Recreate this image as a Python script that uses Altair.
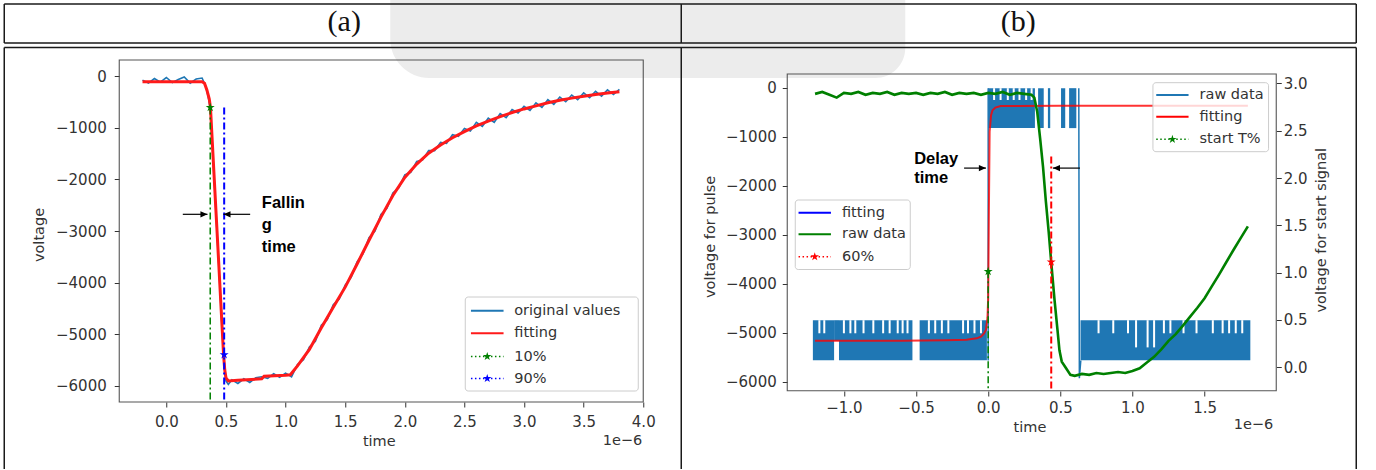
import altair as alt
import pandas as pd

FONT = "DejaVu Sans"
BOLD = "Liberation Sans"
TXT = "#333333"

# ---------------- panel (a): falling edge ----------------
a_raw_time = [-0.20, -0.15, -0.10, -0.05, 0.00, 0.05, 0.10, 0.15, 0.20, 0.25, 0.30,
              0.33, 0.35, 0.37, 0.40, 0.43, 0.46, 0.48, 0.50, 0.52, 0.55, 0.60, 0.65,
              0.70, 0.75, 0.80, 0.85, 0.90, 0.95, 1.00, 1.05, 1.10, 1.15, 1.20, 1.25,
              1.30, 1.35, 1.40, 1.45, 1.50, 1.55, 1.60, 1.65, 1.70, 1.75, 1.80, 1.85,
              1.90, 1.95, 2.00, 2.05, 2.10, 2.15, 2.20, 2.25, 2.30, 2.35, 2.40, 2.45,
              2.50, 2.55, 2.60, 2.65, 2.70, 2.75, 2.80, 2.85, 2.90, 2.95, 3.00, 3.05,
              3.10, 3.15, 3.20, 3.25, 3.30, 3.35, 3.40, 3.45, 3.50, 3.55, 3.60, 3.65,
              3.70, 3.75, 3.80]
a_raw_volt = [-70, -130, -40, -110, -20, -120, -60, -10, -130, -50, -30,
              -190, -380, -640, -1930, -3240, -4560, -5430, -5910, -5980, -5890, -5960, -5870,
              -5940, -5850, -5830, -5860, -5770, -5840, -5760, -5830, -5590, -5500, -5250, -5140,
              -4830, -4720, -4430, -4320, -4050, -3900, -3600, -3440, -3130, -3000, -2680, -2560,
              -2260, -2160, -1910, -1860, -1650, -1620, -1440, -1440, -1280, -1300, -1130, -1160,
              -1010, -1060, -890, -970, -810, -890, -720, -800, -640, -710, -580, -660,
              -510, -600, -450, -540, -400, -490, -360, -450, -320, -410, -290, -380,
              -260, -350, -250]
a_fit_time = [-0.20, 0.30, 0.32, 0.34, 0.36, 0.37, 0.40, 0.42, 0.44, 0.46,
              0.48, 0.49, 0.50, 0.52, 0.60, 0.80, 0.82, 1.00, 1.04, 1.10,
              1.20, 1.30, 1.40, 1.50, 1.60, 1.70, 1.80, 1.90, 2.00, 2.10,
              2.20, 2.30, 2.40, 2.50, 2.60, 2.70, 2.80, 2.90, 3.00, 3.10,
              3.20, 3.30, 3.40, 3.50, 3.60, 3.70, 3.80]
a_fit_volt = [-100, -100, -130, -260, -440, -600, -1910, -2780, -3650, -4530,
              -5400, -5700, -5850, -5910, -5900, -5870, -5820, -5800, -5790, -5620,
              -5300, -4880, -4480, -4090, -3640, -3180, -2730, -2310, -1960, -1700,
              -1490, -1330, -1190, -1070, -960, -865, -780, -700, -630, -570,
              -510, -460, -420, -385, -350, -320, -295]
a_pct_names = ["10%", "90%"]
a_pct_time = [0.368, 0.485]
a_pct_volt = [-600, -5400]
a_pct_line_top = [-600, -600]
a_arrow_tail = [0.138, 0.703]
a_arrow_tip = [0.345, 0.479]
a_arrow_volt = [-2676, -2676]
a_note_text = ["Fallin", "g", "time"]
a_note_time = [0.801, 0.801, 0.801]
a_note_volt = [-2559, -2981, -3402]
a_x_domain = [-0.395, 4.0]
a_y_domain = [-6320, 320]
a_x_ticks = [0.0, 0.5, 1.0, 1.5, 2.0, 2.5, 3.0, 3.5, 4.0]
a_y_ticks = [0, -1000, -2000, -3000, -4000, -5000, -6000]
a_legend_labels = ["original values", "fitting", "10%", "90%"]

# ---------------- panel (b): delay time ----------------
b_raw_block_start = [-1.215, -1.068, -1.034, -0.475, 0.000, 0.346, 0.414, 0.505, 0.561, 0.640]
b_raw_block_end = [-1.068, -1.034, -0.525, -0.009, 0.324, 0.385, 0.430, 0.534, 0.611, 1.817]
b_raw_block_top = [-4745, -4745, -4745, -4745, -10, -10, -10, -10, -10, -4745]
b_raw_block_bottom = [-5565, -5165, -5565, -5565, -825, -825, -825, -825, -825, -5565]
b_raw_slit_time = [-1.170, -1.136, -1.000, -0.955, -0.921, -0.864, -0.796, -0.728, -0.683, -0.627,
                   -0.593, -0.559, -0.411, -0.367, -0.321, -0.276, -0.174, -0.140, -0.095, -0.050,
                   0.041, 0.086, 0.136, 0.177, 0.217, 0.263, 0.301,
                   0.765, 0.867, 0.969, 1.025, 1.105, 1.150, 1.218, 1.263, 1.354, 1.444,
                   1.557, 1.625, 1.670, 1.716, 1.761]
b_raw_slit_top = [-4745] * 20 + [-10] * 7 + [-4745] * 15
b_raw_slit_bottom = ([-5012] * 20 + [-251] * 7 +
                     [-5012, -5012, -5012, -5300, -5300, -5300, -5012, -5012, -5012, -5012,
                      -5012, -5012, -5012, -5012, -5012])
b_raw_edge_time = [0.000, 0.000, 0.628, 0.632, 0.642]
b_raw_edge_volt = [-5565, -10, -10, -5931, -5565]
b_raw_edge_id = [0, 0, 1, 1, 1]
b_fit_time = [-1.20, -0.60, -0.30, -0.15, -0.08, -0.05, -0.03, -0.015, -0.005, 0.000,
              0.005, 0.010, 0.020, 0.030, 0.050, 0.086, 0.15, 0.50, 1.00, 1.80]
b_fit_volt = [-5165, -5162, -5155, -5145, -5115, -5080, -5020, -4940, -4700, -4300,
              -2500, -900, -560, -460, -405, -375, -372, -370, -370, -370]
b_start_time = [-1.20, -1.15, -1.10, -1.05, -1.00, -0.95, -0.90, -0.85, -0.80, -0.75,
                -0.70, -0.65, -0.60, -0.55, -0.50, -0.45, -0.40, -0.35, -0.30, -0.25,
                -0.20, -0.15, -0.10, -0.05, 0.00, 0.05, 0.10, 0.15, 0.20, 0.25, 0.30,
                0.32, 0.34, 0.36, 0.38, 0.40, 0.42, 0.437, 0.46, 0.48, 0.494,
                0.51, 0.54, 0.57, 0.60, 0.65, 0.70, 0.75, 0.80, 0.85, 0.90,
                0.95, 1.00, 1.05, 1.10, 1.15, 1.20, 1.25, 1.30, 1.35, 1.40,
                1.45, 1.50, 1.55, 1.60, 1.65, 1.70, 1.75, 1.80]
b_start_level = [2.89, 2.91, 2.88, 2.85, 2.90, 2.89, 2.91, 2.88, 2.90, 2.89,
                 2.91, 2.88, 2.90, 2.89, 2.90, 2.88, 2.90, 2.89, 2.91, 2.88,
                 2.90, 2.89, 2.90, 2.88, 2.90, 2.89, 2.91, 2.88, 2.90, 2.89, 2.88,
                 2.85, 2.70, 2.42, 2.12, 1.75, 1.42, 1.11, 0.71, 0.40, 0.18,
                 0.06, -0.01, -0.08, -0.09, -0.07, -0.08, -0.06, -0.07, -0.06, -0.05,
                 -0.06, -0.04, -0.01, 0.05, 0.11, 0.19, 0.28, 0.35, 0.44, 0.535,
                 0.63, 0.73, 0.855, 0.98, 1.11, 1.24, 1.365, 1.49]
b_tpct_time, b_tpct_level, b_tpct_line_top = [0.0], [1.014], [1.014]
b_60_time, b_60_level, b_60_line_top = [0.437], [1.113], [2.229]
b_arrow_tail = [-0.167, 0.636]
b_arrow_tip = [-0.0156, 0.4487]
b_arrow_volt = [-1641, -1641]
b_note_text = ["Delay", "time"]
b_note_time = [-0.513, -0.513]
b_note_volt = [-1553, -1949]
b_x_domain = [-1.358, 1.962]
b_left_domain = [-6190, 565]
b_right_domain = [-0.2505, 3.248]
b_x_ticks = [-1.0, -0.5, 0.0, 0.5, 1.0, 1.5]
b_left_ticks = [0, -1000, -2000, -3000, -4000, -5000, -6000]
b_right_ticks = [0.0, 0.5, 1.0, 1.5, 2.0, 2.5, 3.0]
b_legend_left_labels = ["fitting", "raw data", "60%"]
b_legend_right_labels = ["raw data", "fitting", "start T%"]

headers = ["(a)", "(b)"]

STAR = ("M0,-1L0.2245,-0.309L0.951,-0.309L0.363,0.118L0.588,0.809L0,0.382"
        "L-0.588,0.809L-0.363,0.118L-0.951,-0.309L-0.2245,-0.309Z")
HEAD_R = "M0,0L-1,-0.45L-1,0.45Z"
HEAD_L = "M0,0L1,-0.45L1,0.45Z"

ONE = pd.DataFrame({"k": [0]})


def hrule(x1, x2, y, color, width, dash=None):
    kw = dict(color=color, strokeWidth=width)
    if dash is not None:
        kw["strokeDash"] = dash
    return alt.Chart(ONE).mark_rule(**kw).encode(x=alt.value(x1), x2=alt.value(x2), y=alt.value(y))


def vrule(x, y1, y2, color, width):
    return alt.Chart(ONE).mark_rule(color=color, strokeWidth=width).encode(
        x=alt.value(x), y=alt.value(y1), y2=alt.value(y2))


def box(x1, x2, y1, y2, **kw):
    return alt.Chart(ONE).mark_rect(**kw).encode(
        x=alt.value(x1), x2=alt.value(x2), y=alt.value(y1), y2=alt.value(y2))


def txt(x, y, s, size=14.5, align="left", baseline="middle", angle=0, font=FONT,
        weight="normal", color=TXT):
    kw = dict(align=align, baseline=baseline, font=font, fontSize=size,
              fontWeight=weight, color=color)
    if angle:
        kw["angle"] = angle
    return alt.Chart(ONE).mark_text(**kw).encode(x=alt.value(x), y=alt.value(y), text=alt.value(s))


def star_px(x, y, color, size=80):
    return alt.Chart(ONE).mark_point(shape=STAR, filled=True, size=size, color=color,
                                     opacity=1, strokeWidth=0).encode(x=alt.value(x), y=alt.value(y))


def legend(frame, rows, row_y, line_x, text_x):
    x1, x2, y1, y2 = frame
    out = [box(x1, x2, y1, y2, fill="white", fillOpacity=0.8, stroke="#cccccc",
               strokeWidth=1, cornerRadius=3)]
    for (label, color, style), y in zip(rows, row_y):
        if style == "line":
            out.append(hrule(line_x[0], line_x[1], y, color, 2))
        else:
            out.append(hrule(line_x[0], line_x[1], y, color, 1.5, dash=[1.5, 2.5]))
            out.append(star_px((line_x[0] + line_x[1]) / 2, y, color))
        out.append(txt(text_x, y, label))
    return out


def axis(values, fmt, orient, pad):
    return alt.Axis(values=values, orient=orient, title=None, grid=False, domain=False,
                    ticks=True, tickSize=5, tickWidth=1, tickColor="#333333",
                    labelFont=FONT, labelFontSize=15, labelColor=TXT, labelPadding=pad,
                    labelFlush=False, labelOverlap=False,
                    labelExpr="replace(format(datum.value, '" + fmt + "'), '-', '\u2212')")


def sc(domain):
    return alt.Scale(domain=domain, nice=False, zero=False)


# ---------------- build panel (a) ----------------
a_xs, a_ys = sc(a_x_domain), sc(a_y_domain)
a_xa, a_ya = axis(a_x_ticks, ".1f", "bottom", 7), axis(a_y_ticks, "d", "left", 8)


def ax(f):
    return alt.X(f, type="quantitative", scale=a_xs, axis=a_xa)


def ay(f):
    return alt.Y(f, type="quantitative", scale=a_ys, axis=a_ya)


W_A, H_A = 524, 342
a_layers = []
# watermark and table frame (figure decoration)
a_layers.append(box(271, 786, -60, 18, fill="#ececec", cornerRadiusBottomLeft=40,
                    cornerRadiusBottomRight=30))
TL = "#1a1a1a"
for yy in (-56, -17, -12.5):
    a_layers.append(hrule(-115, 1237, yy, TL, 1.5))
for xx in (-115, 562, 1237):
    a_layers.append(vrule(xx, -56, -17, TL, 1.5))
    a_layers.append(vrule(xx, -12.5, 409, TL, 1.5))
a_layers.append(txt(225, -38, headers[0], size=30, align="center", font="Liberation Serif", color="#111111"))
a_layers.append(txt(899, -38, headers[1], size=30, align="center", font="Liberation Serif", color="#111111"))

a_raw = pd.DataFrame({"t": a_raw_time, "v": a_raw_volt, "i": range(len(a_raw_time))})
a_fit = pd.DataFrame({"t": a_fit_time, "v": a_fit_volt, "i": range(len(a_fit_time))})
a_layers.append(alt.Chart(a_raw).mark_line(color="#1f77b4", strokeWidth=1.6).encode(
    x=ax("t"), y=ay("v"), order="i:Q"))
a_layers.append(alt.Chart(a_fit).mark_line(color="#ff1a1a", strokeWidth=3).encode(
    x=ax("t"), y=ay("v"), order="i:Q"))
pct_colors = ["#008000", "#0000ff"]
pct_widths = [1.5, 2]
for k in range(2):
    d = pd.DataFrame({"t": [a_pct_time[k]], "v": [a_pct_line_top[k]], "v2": [a_y_domain[0]],
                      "p": [a_pct_volt[k]]})
    a_layers.append(alt.Chart(d).mark_rule(color=pct_colors[k], strokeWidth=pct_widths[k],
                                           strokeDash=[7, 3, 2, 3]).encode(
        x=ax("t"), y=ay("v"), y2=alt.Y2("v2")))
for k in range(2):
    d = pd.DataFrame({"t": [a_pct_time[k]], "p": [a_pct_volt[k]]})
    a_layers.append(alt.Chart(d).mark_point(shape=STAR, filled=True, size=90, color=pct_colors[k],
                                            opacity=1, strokeWidth=0).encode(x=ax("t"), y=ay("p")))
a_arr = pd.DataFrame({"t0": a_arrow_tail, "t1": a_arrow_tip, "v": a_arrow_volt})
a_layers.append(alt.Chart(a_arr).mark_rule(color="black", strokeWidth=1.2).encode(
    x=ax("t0"), x2=alt.X2("t1"), y=ay("v")))
a_layers.append(alt.Chart(a_arr.iloc[[0]]).mark_point(shape=HEAD_R, filled=True, size=200, color="black",
                                                      opacity=1, strokeWidth=0).encode(x=ax("t1"), y=ay("v")))
a_layers.append(alt.Chart(a_arr.iloc[[1]]).mark_point(shape=HEAD_L, filled=True, size=200, color="black",
                                                      opacity=1, strokeWidth=0).encode(x=ax("t1"), y=ay("v")))
a_note = pd.DataFrame({"t": a_note_time, "v": a_note_volt, "s": a_note_text})
a_layers.append(alt.Chart(a_note).mark_text(align="left", baseline="alphabetic", font=BOLD,
                                            fontWeight="bold", fontSize=16.5, color="black").encode(
    x=ax("t"), y=ay("v"), text="s:N"))
a_rows = [(a_legend_labels[0], "#1f77b4", "line"), (a_legend_labels[1], "#ff1a1a", "line"),
          (a_legend_labels[2], "#008000", "star"), (a_legend_labels[3], "#0000ff", "star")]
a_layers += legend((346, 519, 237, 331), a_rows, [250.7, 273.3, 296.5, 318.5], (351.7, 384.3), 395)
a_layers.append(txt(-79, 175, "voltage", align="center", angle=270))
a_layers.append(txt(260, 381.5, "time", align="center"))
a_layers.append(txt(523, 381, "1e\u22126", align="right"))
a_layers.append(box(0, W_A, 0, H_A, fillOpacity=0, stroke="#555555", strokeWidth=1.1))
panel_a = alt.layer(*a_layers).properties(width=W_A, height=H_A)

# ---------------- build panel (b) ----------------
b_xs, b_ls, b_rs = sc(b_x_domain), sc(b_left_domain), sc(b_right_domain)
b_xa = axis(b_x_ticks, ".1f", "bottom", 4)
b_la = axis(b_left_ticks, "d", "left", 6)
b_ra = axis(b_right_ticks, ".1f", "right", 2)


def bx(f):
    return alt.X(f, type="quantitative", scale=b_xs, axis=b_xa)


def bl(f):
    return alt.Y(f, type="quantitative", scale=b_ls, axis=b_la)


def br(f):
    return alt.Y(f, type="quantitative", scale=b_rs, axis=b_ra)


W_B, H_B = 489, 331
left = []
blk = pd.DataFrame({"t0": b_raw_block_start, "t1": b_raw_block_end,
                    "top": b_raw_block_top, "bot": b_raw_block_bottom})
left.append(alt.Chart(blk).mark_rect(color="#1f77b4").encode(
    x=bx("t0"), x2=alt.X2("t1"), y=bl("top"), y2=alt.Y2("bot")))
slit = pd.DataFrame({"t": b_raw_slit_time, "top": b_raw_slit_top, "bot": b_raw_slit_bottom})
left.append(alt.Chart(slit).mark_bar(color="white", size=2).encode(
    x=bx("t"), y=bl("top"), y2=alt.Y2("bot")))
edge = pd.DataFrame({"t": b_raw_edge_time, "v": b_raw_edge_volt, "g": b_raw_edge_id,
                     "i": range(len(b_raw_edge_time))})
left.append(alt.Chart(edge).mark_line(color="#1f77b4", strokeWidth=1.5).encode(
    x=bx("t"), y=bl("v"), detail="g:N", order="i:Q"))
bfit = pd.DataFrame({"t": b_fit_time, "v": b_fit_volt, "i": range(len(b_fit_time))})
left.append(alt.Chart(bfit).mark_line(color="#ff0000", strokeWidth=2, opacity=0.8).encode(
    x=bx("t"), y=bl("v"), order="i:Q"))
b_arr = pd.DataFrame({"t0": b_arrow_tail, "t1": b_arrow_tip, "v": b_arrow_volt})
left.append(alt.Chart(b_arr).mark_rule(color="black", strokeWidth=1.2).encode(
    x=bx("t0"), x2=alt.X2("t1"), y=bl("v")))
left.append(alt.Chart(b_arr.iloc[[0]]).mark_point(shape=HEAD_R, filled=True, size=200, color="black",
                                                  opacity=1, strokeWidth=0).encode(x=bx("t1"), y=bl("v")))
left.append(alt.Chart(b_arr.iloc[[1]]).mark_point(shape=HEAD_L, filled=True, size=200, color="black",
                                                  opacity=1, strokeWidth=0).encode(x=bx("t1"), y=bl("v")))
b_note = pd.DataFrame({"t": b_note_time, "v": b_note_volt, "s": b_note_text})
left.append(alt.Chart(b_note).mark_text(align="left", baseline="alphabetic", font=BOLD,
                                        fontWeight="bold", fontSize=16.5, color="black").encode(
    x=bx("t"), y=bl("v"), text="s:N"))

right = []
sig = pd.DataFrame({"t": b_start_time, "r": b_start_level, "i": range(len(b_start_time))})
right.append(alt.Chart(sig).mark_line(color="#008000", strokeWidth=2.6).encode(
    x=bx("t"), y=br("r"), order="i:Q"))
for tt, top, col, wd in ((b_tpct_time, b_tpct_line_top, "#008000", 1.5),
                         (b_60_time, b_60_line_top, "#ff0000", 2)):
    d = pd.DataFrame({"t": tt, "r": top, "r2": [b_right_domain[0]]})
    right.append(alt.Chart(d).mark_rule(color=col, strokeWidth=wd, strokeDash=[7, 3, 2, 3]).encode(
        x=bx("t"), y=br("r"), y2=alt.Y2("r2")))
for tt, lv, col in ((b_tpct_time, b_tpct_level, "#008000"), (b_60_time, b_60_level, "#ff0000")):
    d = pd.DataFrame({"t": tt, "r": lv})
    right.append(alt.Chart(d).mark_point(shape=STAR, filled=True, size=90, color=col,
                                         opacity=1, strokeWidth=0).encode(x=bx("t"), y=br("r")))

b_decos = []
rows_l = [(b_legend_left_labels[0], "#0000ff", "line"), (b_legend_left_labels[1], "#008000", "line"),
          (b_legend_left_labels[2], "#ff0000", "star")]
b_decos += legend((8, 123, 140, 209.5), rows_l, [152.7, 174.3, 196.7], (11.3, 43.7), 54.7)
rows_r = [(b_legend_right_labels[0], "#1f77b4", "line"), (b_legend_right_labels[1], "#ff0000", "line"),
          (b_legend_right_labels[2], "#008000", "star")]
b_decos += legend((365.7, 481.3, 22.7, 91.7), rows_r, [35, 56.7, 79.3], (369, 401.3), 412.3)
b_decos.append(txt(-76.4, 176.9, "voltage for pulse", align="center", angle=270))
b_decos.append(txt(535, 170.2, "voltage for start signal", align="center", angle=270))
b_decos.append(txt(242.7, 367.9, "time", align="center"))
b_decos.append(txt(486, 364.6, "1e\u22126", align="right"))
b_decos.append(box(0, W_B, 14, 330.7, fillOpacity=0, stroke="#555555", strokeWidth=1.1))

panel_b = alt.layer(alt.layer(*left), alt.layer(*right), *b_decos).resolve_scale(
    y="independent").properties(width=W_B, height=H_B)

chart = alt.hconcat(panel_a, panel_b, spacing=144, bounds="flush").properties(
    padding={"left": 3.25, "top": 0, "right": 0, "bottom": 0}
).configure_view(stroke="transparent", strokeWidth=0)

chart.save("out.html", embed_options={"renderer": "svg", "actions": False})
